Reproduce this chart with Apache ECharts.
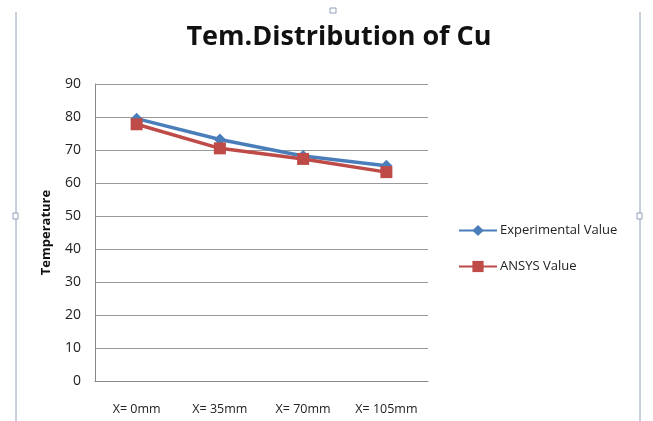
<!DOCTYPE html>
<html>
<head>
<meta charset="utf-8">
<script src="https://cdn.jsdelivr.net/npm/echarts@6/dist/echarts.min.js"></script>
<style>
html,body{margin:0;padding:0;background:#fff;}
#chart{width:653px;height:421px;}
</style>
</head>
<body>
<div id="chart"></div>
<script>
// Measurement positions along the copper bar
const categories = ['X= 0mm', 'X= 35mm', 'X= 70mm', 'X= 105mm'];
// Measured temperatures
const experimentalValues = [79.5, 73.2, 68.2, 65.2];
// Simulated temperatures
const ansysValues = [77.8, 70.5, 67.3, 63.3];
const yTicks = { min: 0, max: 90, interval: 10 };

const chart = echarts.init(document.getElementById('chart'));
const fontFamily = 'Open Sans, Liberation Sans, sans-serif';

chart.setOption({
  animation: false,
  backgroundColor: '#fff',
  title: {
    text: 'Tem.Distribution of Cu',
    left: 334,
    textAlign: 'center',
    top: 19,
    textStyle: { fontFamily: fontFamily, fontSize: 27, fontWeight: 'bold', color: '#111' }
  },
  legend: {
    orient: 'vertical',
    left: 453,
    top: 219,
    itemGap: 23,
    itemWidth: 38,
    itemHeight: 14,
    textStyle: { fontFamily: fontFamily, fontSize: 13, color: '#222', padding: [0, 0, 0, -2] },
    data: ['Experimental Value', 'ANSYS Value']
  },
  grid: { left: 95, right: 225, top: 84, bottom: 40 },
  xAxis: {
    type: 'category',
    data: categories,
    boundaryGap: true,
    axisLine: { lineStyle: { color: '#888' } },
    axisTick: { show: false },
    axisLabel: { fontFamily: fontFamily, fontSize: 12.5, color: '#222', margin: 22 }
  },
  yAxis: {
    type: 'value',
    min: yTicks.min,
    max: yTicks.max,
    interval: yTicks.interval,
    name: 'Temperature',
    nameLocation: 'middle',
    nameGap: 42,
    nameTextStyle: { fontFamily: fontFamily, fontSize: 13, fontWeight: 'bold', color: '#111' },
    axisLine: { show: true, lineStyle: { color: '#888' } },
    axisTick: { show: false },
    axisLabel: { fontFamily: fontFamily, fontSize: 14, color: '#222', margin: 14 },
    splitLine: { lineStyle: { color: '#999', width: 1 } }
  },
  series: [
    {
      name: 'Experimental Value',
      type: 'line',
      data: experimentalValues,
      symbol: 'diamond',
      symbolSize: 12,
      lineStyle: { color: '#4A7EBB', width: 3.5 },
      itemStyle: { color: '#4A7EBB' }
    },
    {
      name: 'ANSYS Value',
      type: 'line',
      data: ansysValues,
      symbol: 'rect',
      symbolSize: 12,
      lineStyle: { color: '#BE4B48', width: 3.5 },
      itemStyle: { color: '#BE4B48' }
    }
  ],
  graphic: [
    { type: 'line', shape: { x1: 16, y1: 12, x2: 16, y2: 421 }, style: { stroke: '#8fa0b8', lineWidth: 1 } },
    { type: 'line', shape: { x1: 640, y1: 12, x2: 640, y2: 421 }, style: { stroke: '#8fa0b8', lineWidth: 1 } },
    { type: 'rect', shape: { x: 330, y: 8, width: 6, height: 5 }, style: { fill: '#fff', stroke: '#8fa0b8', lineWidth: 1 } },
    { type: 'rect', shape: { x: 13, y: 213, width: 5, height: 6 }, style: { fill: '#fff', stroke: '#8fa0b8', lineWidth: 1 } },
    { type: 'rect', shape: { x: 637, y: 213, width: 5, height: 6 }, style: { fill: '#fff', stroke: '#8fa0b8', lineWidth: 1 } }
  ]
});
</script>
</body>
</html>
